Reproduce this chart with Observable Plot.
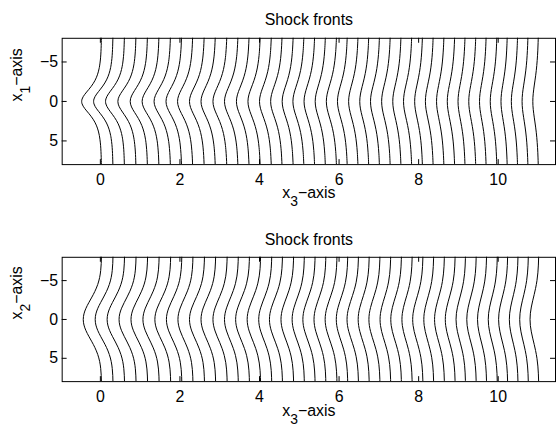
<!DOCTYPE html>
<html>
<head>
<meta charset="utf-8">
<script src="https://cdn.jsdelivr.net/npm/d3@7"></script>
<script src="https://cdn.jsdelivr.net/npm/@observablehq/plot@0.6"></script>
<style>
  body { margin: 0; overflow: hidden; background: white; }
  svg { display: block; }
</style>
</head>
<body>
<div id="chart"></div>
<script>
// ---- data ----
const titleText = "Shock fronts";
const xLabelText = ["x", "3", "\u2212axis"];
const yLabelTop = ["x", "1", "\u2212axis"];
const yLabelBottom = ["x", "2", "\u2212axis"];
const xTicks = [0, 2, 4, 6, 8, 10];
const yTicks = [-5, 0, 5];
const xDomain = [-0.96, 11.44];
const yDomain = [-8, 8];

// x3 position of each front far from the axis (at the top/bottom edge)
const frontBase = [0.03, 0.32, 0.61, 0.90, 1.19, 1.48, 1.77, 2.05, 2.33, 2.62,
  2.90, 3.19, 3.47, 3.75, 4.03, 4.31, 4.58, 4.86, 5.13, 5.40,
  5.67, 5.95, 6.22, 6.49, 6.76, 7.03, 7.30, 7.57, 7.84, 8.11,
  8.38, 8.65, 8.92, 9.18, 9.45, 9.71, 9.98, 10.24, 10.50, 10.76, 11.02];

// top panel: how far each front lags at x1 = 0, and the half-width of the dent
const depthTop = [0.50, 0.49, 0.48, 0.46, 0.44, 0.43, 0.42, 0.40, 0.39, 0.38,
  0.37, 0.36, 0.35, 0.33, 0.32, 0.31, 0.30, 0.29, 0.29, 0.28,
  0.27, 0.27, 0.26, 0.25, 0.24, 0.24, 0.23, 0.22, 0.22, 0.21,
  0.21, 0.20, 0.20, 0.19, 0.19, 0.18, 0.18, 0.17, 0.17, 0.16, 0.15];
const widthTop = [1.50, 1.56, 1.62, 1.68, 1.74, 1.79, 1.84, 1.88, 1.92, 1.96,
  2.00, 2.03, 2.06, 2.09, 2.12, 2.15, 2.18, 2.21, 2.24, 2.26,
  2.28, 2.30, 2.32, 2.34, 2.36, 2.38, 2.40, 2.42, 2.44, 2.46,
  2.48, 2.50, 2.51, 2.52, 2.53, 2.54, 2.55, 2.56, 2.57, 2.58, 2.60];

// bottom panel
const depthBottom = [0.46, 0.45, 0.44, 0.43, 0.42, 0.41, 0.40, 0.39, 0.38, 0.38,
  0.37, 0.36, 0.35, 0.35, 0.34, 0.33, 0.33, 0.32, 0.31, 0.31,
  0.30, 0.30, 0.29, 0.29, 0.28, 0.28, 0.27, 0.27, 0.26, 0.26,
  0.25, 0.25, 0.25, 0.24, 0.24, 0.23, 0.23, 0.23, 0.22, 0.22, 0.22];
const widthBottom = [3.60, 3.61, 3.62, 3.63, 3.64, 3.65, 3.66, 3.67, 3.68, 3.69,
  3.70, 3.71, 3.72, 3.73, 3.74, 3.75, 3.76, 3.77, 3.78, 3.79,
  3.80, 3.81, 3.82, 3.83, 3.84, 3.85, 3.86, 3.87, 3.88, 3.89,
  3.90, 3.91, 3.92, 3.93, 3.94, 3.95, 3.96, 3.97, 3.98, 3.99, 4.00];

// dent profile samples (relative offset vs. scaled distance from the axis)
const profileU = [-6, -5, -4, -3.5, -3, -2.75, -2.5, -2.25, -2, -1.75, -1.5, -1.25, -1, -0.8, -0.6, -0.4, -0.2,
  0, 0.2, 0.4, 0.6, 0.8, 1, 1.25, 1.5, 1.75, 2, 2.25, 2.5, 2.75, 3, 3.5, 4, 5, 6];
const profileTop = [0.005, 0.0135, 0.0366, 0.0603, 0.0993, 0.1273, 0.1631, 0.2084, 0.2658, 0.3372, 0.4251, 0.5295, 0.6481, 0.7477, 0.8436, 0.9250, 0.9803,
  1, 0.9803, 0.9250, 0.8436, 0.7477, 0.6481, 0.5295, 0.4251, 0.3372, 0.2658, 0.2084, 0.1631, 0.1273, 0.0993, 0.0603, 0.0366, 0.0135, 0.005];
const profileBottom = [0, 0, 0, 0, 0.0001, 0.0005, 0.0019, 0.0063, 0.0183, 0.0468, 0.1054, 0.2096, 0.3679, 0.5273, 0.6977, 0.8521, 0.9608,
  1, 0.9608, 0.8521, 0.6977, 0.5273, 0.3679, 0.2096, 0.1054, 0.0468, 0.0183, 0.0063, 0.0019, 0.0005, 0.0001, 0, 0, 0, 0];

const FONT = "'Liberation Sans', Arial, Helvetica, sans-serif";
const FS = 16;

function rowsFor(depth, width, profile) {
  const rows = [];
  frontBase.forEach((b, i) => {
    profileU.forEach((u, j) => {
      rows.push({front: i, x3: b - depth[i] * profile[j], xs: u * width[i]});
    });
  });
  return rows;
}

function panel({rows, height, marginTop, marginBottom, yLabel, titleDy, xLabelDy}) {
  const width = 560, marginLeft = 62, marginRight = 2;
  const fw = width - marginLeft - marginRight;
  const fh = height - marginTop - marginBottom;
  const tick = 5;
  const svg = Plot.plot({
    width, height, marginLeft, marginRight, marginTop, marginBottom,
    style: {fontFamily: FONT, fontSize: FS + "px", color: "black", background: "white", overflow: "visible"},
    x: {domain: xDomain, axis: null},
    y: {domain: yDomain, reverse: true, axis: null},
    marks: [
      Plot.line(rows, {x: "x3", y: "xs", z: "front", stroke: "black", strokeWidth: 1, curve: "catmull-rom", clip: true}),
      Plot.ruleX(xTicks, {x: d => d, insetBottom: fh - tick, stroke: "black"}),
      Plot.ruleX(xTicks, {x: d => d, insetTop: fh - tick, stroke: "black"}),
      Plot.ruleY(yTicks, {y: d => d, insetRight: fw - tick, stroke: "black"}),
      Plot.ruleY(yTicks, {y: d => d, insetLeft: fw - tick, stroke: "black"}),
      Plot.frame({stroke: "black", strokeWidth: 1}),
      Plot.axisX(xTicks, {anchor: "bottom", tickSize: 0, tickPadding: 9, label: null, fontSize: FS}),
      Plot.axisY(yTicks, {anchor: "left", tickSize: 0, tickPadding: 4, label: null, fontSize: FS}),
      Plot.text([titleText], {frameAnchor: "top", dy: titleDy, lineAnchor: "middle", fontSize: FS, text: d => d}),
      Plot.text(["XLABEL"], {frameAnchor: "bottom", dy: xLabelDy, lineAnchor: "middle", fontSize: FS, text: d => d}),
      Plot.text(["YLABEL"], {frameAnchor: "left", dx: -46, rotate: -90, lineAnchor: "middle", fontSize: FS, text: d => d})
    ]
  });
  // subscripts in the axis labels
  svg.querySelectorAll("text").forEach(t => {
    const s = t.textContent;
    let parts = null;
    if (s === "XLABEL") parts = xLabelText;
    if (s === "YLABEL") parts = yLabel;
    if (!parts) return;
    t.textContent = "";
    const ns = "http://www.w3.org/2000/svg";
    const a = document.createElementNS(ns, "tspan"); a.textContent = parts[0]; t.appendChild(a);
    const b = document.createElementNS(ns, "tspan"); b.textContent = parts[1]; b.setAttribute("dy", "9"); b.setAttribute("font-size", "14"); t.appendChild(b);
    const c = document.createElementNS(ns, "tspan"); c.textContent = parts[2]; c.setAttribute("dy", "-9"); t.appendChild(c);
  });
  return svg;
}

const root = document.getElementById("chart");
root.appendChild(panel({rows: rowsFor(depthTop, widthTop, profileTop), height: 220, marginTop: 38, marginBottom: 55, yLabel: yLabelTop, titleDy: -18, xLabelDy: 28}));
root.appendChild(panel({rows: rowsFor(depthBottom, widthBottom, profileBottom), height: 206, marginTop: 38, marginBottom: 43, yLabel: yLabelBottom, titleDy: -17, xLabelDy: 29}));
</script>
</body>
</html>
